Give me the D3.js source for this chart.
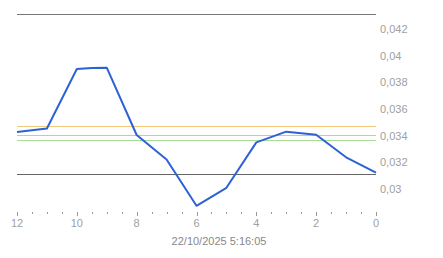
<!DOCTYPE html>
<html><head><meta charset="utf-8">
<script src="https://cdn.jsdelivr.net/npm/d3@7"></script>
<style>body{margin:0;background:#fff}svg{display:block}text{font-family:"Liberation Sans",Arial,sans-serif}</style>
</head><body>
<svg id="c" width="443" height="258"></svg>
<script>
const hours = [12, 11, 10, 9.5, 9, 8, 7, 6, 5, 4, 3, 2, 1, 0];
const values = [0.03428, 0.03454, 0.03900, 0.03907, 0.03910, 0.03405, 0.03221, 0.02874, 0.03009, 0.03350, 0.03430, 0.03407, 0.03238, 0.03122];
const yTicks = [0.03, 0.032, 0.034, 0.036, 0.038, 0.04, 0.042];
const xTicks = [12, 10, 8, 6, 4, 2, 0];
const refLines = [
  {v: 0.04313, c: "#777"},
  {v: 0.03112, c: "#666"},
  {v: 0.03470, c: "#f0c878"},
  {v: 0.03403, c: "#a8dc98"},
  {v: 0.03365, c: "#a8dc98"}
];
const title = "22/10/2025 5:16:05";

const svg = d3.select("#c");
const x = d3.scaleLinear().domain([12, 0]).range([17, 376]);
const y = d3.scaleLinear().domain([0.03, 0.042]).range([189, 29]);

svg.selectAll("line.ref").data(refLines).enter().append("line")
  .attr("x1", x(12)).attr("x2", x(0))
  .attr("y1", d => Math.round(y(d.v)) + 0.5).attr("y2", d => Math.round(y(d.v)) + 0.5)
  .attr("stroke", d => d.c).attr("stroke-width", 1);

const fmt = d => d3.format("")(+d.toFixed(3)).replace(".", ",");
svg.selectAll("text.yl").data(yTicks).enter().append("text")
  .attr("x", 380).attr("y", d => y(d)).attr("dy", "0.35em")
  .attr("font-size", 11).attr("fill", "#a0a0a0").text(fmt);

// x axis ticks
const minor = d3.range(0, 12.01, 0.5);
const axY = 212;
svg.selectAll("line.mt").data(minor).enter().append("line")
  .attr("x1", d => Math.round(x(d)) + 0.5).attr("x2", d => Math.round(x(d)) + 0.5)
  .attr("y1", axY).attr("y2", d => xTicks.includes(d) ? axY + 4 : axY + 2)
  .attr("stroke", "#999").attr("stroke-width", 1);
svg.selectAll("text.xl").data(xTicks).enter().append("text")
  .attr("x", d => x(d)).attr("y", 223).attr("dy", "0.35em").attr("text-anchor", "middle")
  .attr("font-size", 11).attr("fill", "#a0a0a0").text(d => d);
svg.append("text").attr("x", 219).attr("y", 241).attr("dy", "0.35em").attr("text-anchor", "middle")
  .attr("font-size", 11).attr("fill", "#888").text(title);

const line = d3.line().x((d, i) => x(hours[i])).y(d => y(d));
svg.append("path").datum(values).attr("d", line).attr("fill", "none")
  .attr("stroke", "#2c62d4").attr("stroke-width", 2).attr("stroke-linejoin", "round");
</script>
</body></html>
